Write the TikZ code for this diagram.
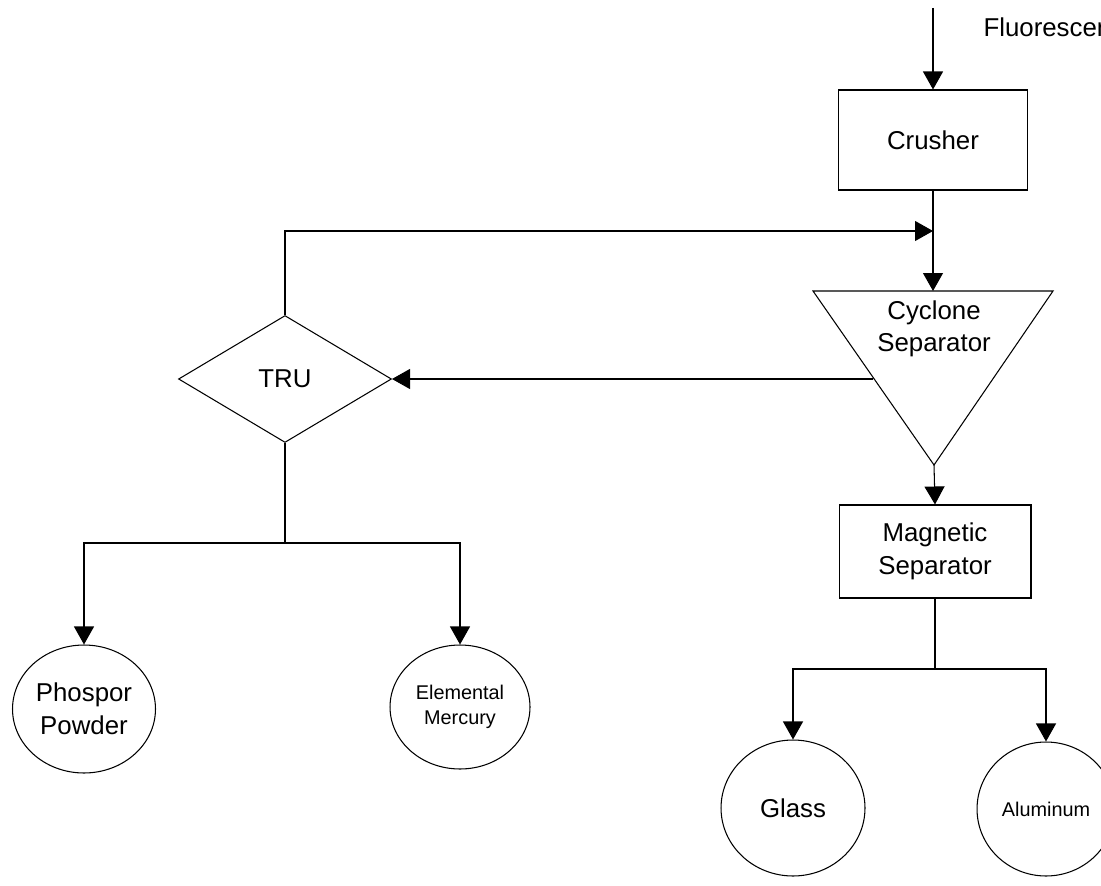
\documentclass[tikz,border=0pt]{standalone}
\usepackage{fontspec}
\setmainfont{Liberation Sans}
\usetikzlibrary{
  arrows.meta,
  positioning,
  shapes.geometric,
}
\newcommand{\bigtext}{\fontsize{14.7}{18.5}\selectfont}
\newcommand{\smalltext}{\fontsize{11.3}{14}\selectfont}

\begin{document}
\begin{tikzpicture}[x=0.02cm, y=-0.02cm,
  >={Triangle[length=0.36cm, width=0.4cm]},
  line width=0.6pt,
  unit/.style={draw, rectangle, inner sep=0pt, align=center, font=\bigtext},
  product/.style={draw, ellipse, inner sep=0pt, align=center},
]
\useasboundingbox (0,0) rectangle (1101,885);

\node[unit, minimum width=3.78cm, minimum height=2cm] (crusher) at (933,140) {Crusher};
\coordinate (feed) at (933,8);
\node[anchor=base west, inner sep=0pt, font=\bigtext] (lamps) at (983,37) {Fluorescent};
\draw[->] (feed) -- (crusher.north);

% cyclone drawn by hand
\coordinate (cyctl) at (813,291);
\coordinate (cyctr) at (1053,291);
\coordinate (cycbot) at (934,465);
\coordinate (cyctop) at (933,291);
\coordinate (cycout) at (873,379);
\draw (cyctl) -- (cyctr) -- (cycbot) -- cycle;
\node[align=center, font=\bigtext] (cyclone) at (934,329) {Cyclone\\Separator};

\coordinate (merge) at (933,231);
\draw[->] (crusher.south) -- (cyctop);

\node[draw, diamond, minimum width=4.26cm, minimum height=2.54cm, inner sep=0pt, font=\bigtext] (tru) at (285,379) {TRU};
\draw[->] (cycout) -- (tru.east);
\draw[->] (tru.north) -- (tru.north |- merge) -- (merge);

\node[product, minimum width=2.86cm, minimum height=2.56cm, font=\bigtext] (phospor) at (84,709) {Phospor\\Powder};
\node[product, minimum width=2.8cm, minimum height=2.48cm, font=\smalltext] (mercury) at (460,707) {Elemental\\Mercury};
\coordinate (trusplit) at (285,543);
\draw (tru.south) -- (trusplit);
\draw[->] (trusplit) -| (phospor.north);
\draw[->] (trusplit) -| (mercury.north);

\node[unit, minimum width=3.84cm, minimum height=1.86cm] (magsep) at (935,551.5) {Magnetic\\Separator};
\draw[->] (cycbot) -- (magsep.north);

\node[product, minimum width=2.88cm, minimum height=2.72cm, font=\bigtext] (glass) at (793,808) {Glass};
\node[product, minimum width=2.76cm, minimum height=2.68cm, font=\smalltext] (alu) at (1046,809) {Aluminum};
\coordinate (magsplit) at (935,669);
\draw (magsep.south) -- (magsplit);
\draw[->] (magsplit) -| (glass.north);
\draw[->] (magsplit) -| (alu.north);
\end{tikzpicture}
\end{document}
